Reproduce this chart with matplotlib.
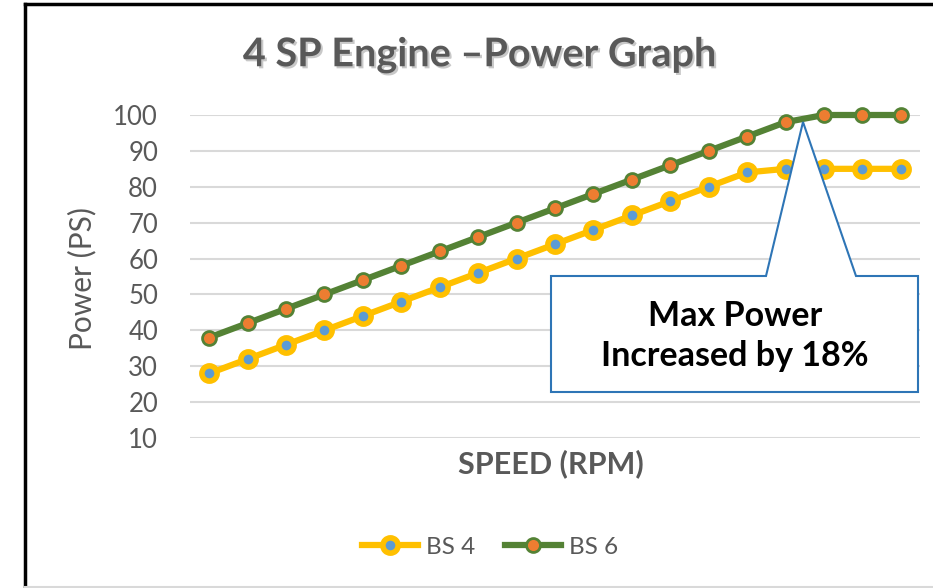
import matplotlib
matplotlib.use("Agg")
import matplotlib.pyplot as plt
from matplotlib.patches import Polygon
from matplotlib.lines import Line2D
import matplotlib.patheffects as pe

plt.rcParams['font.family'] = ['Lato', 'DejaVu Sans']

# ---- data ----
speed_idx = list(range(19))
bs4 = [28, 32, 36, 40, 44, 48, 52, 56, 60, 64, 68, 72, 76, 80, 84, 85, 85, 85, 85]
bs6 = [38, 42, 46, 50, 54, 58, 62, 66, 70, 74, 78, 82, 86, 90, 94, 98, 100, 100, 100]
yticks = [10, 20, 30, 40, 50, 60, 70, 80, 90, 100]
title = "4 SP Engine \u2013Power Graph"
callout_text = "Max Power\nIncreased by 18%"

W, H = 933, 588
fig = plt.figure(figsize=(W / 100, H / 100), dpi=100)

def fx(px):
    return px / W

def fy(py):
    return 1 - py / H

ax = fig.add_axes([fx(190), fy(438), fx(920) - fx(190), fy(115) - fy(438)])
grey = '#595959'

ax.plot(speed_idx, bs4, color='#FFC000', lw=4.5, marker='o', ms=11,
        mfc='#5B9BD5', mec='#FFC000', mew=4, clip_on=False, zorder=3, label='BS 4')
ax.plot(speed_idx, bs6, color='#548235', lw=4.5, marker='o', ms=10,
        mfc='#ED7D31', mec='#548235', mew=2, clip_on=False, zorder=4, label='BS 6')

ax.set_xlim(-0.5, len(speed_idx) - 0.5)
ax.set_ylim(10, 100)
ax.set_yticks(yticks)
ax.set_xticks([])
ax.tick_params(axis='y', length=0, labelsize=18.5, labelcolor=grey, pad=23)
ax.grid(axis='y', color='#D9D9D9', lw=1.5)
ax.set_axisbelow(True)
for s in ax.spines.values():
    s.set_visible(False)

fig.text(fx(82), fy(278), "Power (PS)", fontsize=21.5, color=grey,
         rotation=90, ha='center', va='center')

fig.text(fx(551), fy(464), "SPEED (RPM)", fontsize=22, fontweight='bold',
         color=grey, ha='center', va='center')

fig.text(fx(480), fy(55), title, fontsize=28.5, fontweight='bold', color=grey,
         ha='center', va='center',
         path_effects=[pe.withSimplePatchShadow(offset=(1.5, -1.5), shadow_rgbFace='#BBBBBB', alpha=0.8)])

# callout
pts = [(551, 276), (766, 276), (803, 122), (856, 276), (918, 276), (918, 392), (551, 392)]
poly = Polygon([(fx(x), fy(y)) for x, y in pts], closed=True, transform=fig.transFigure,
               facecolor='white', edgecolor='#2E75B6', lw=1.5, zorder=10)
fig.add_artist(poly)
fig.text(fx(735), fy(336), callout_text, fontsize=24.5, fontweight='bold', color='black',
         ha='center', va='center', linespacing=1.3, zorder=11)

# legend
leg = fig.legend(loc='center', bbox_to_anchor=(fx(490), fy(547)), ncol=2, frameon=False,
                 fontsize=17.5, handlelength=2.3, columnspacing=1.2, handletextpad=0.35)
for t in leg.get_texts():
    t.set_color(grey)

# frame
fig.add_artist(Line2D([fx(25), fx(25)], [fy(4), fy(588)], transform=fig.transFigure, color='black', lw=2.5))
fig.add_artist(Line2D([fx(25), fx(933)], [fy(4), fy(4)], transform=fig.transFigure, color='black', lw=2.5))
fig.add_artist(Line2D([fx(25), fx(933)], [fy(587), fy(587)], transform=fig.transFigure, color='#D9D9D9', lw=1.5))

fig.savefig("out.png", dpi=100)
